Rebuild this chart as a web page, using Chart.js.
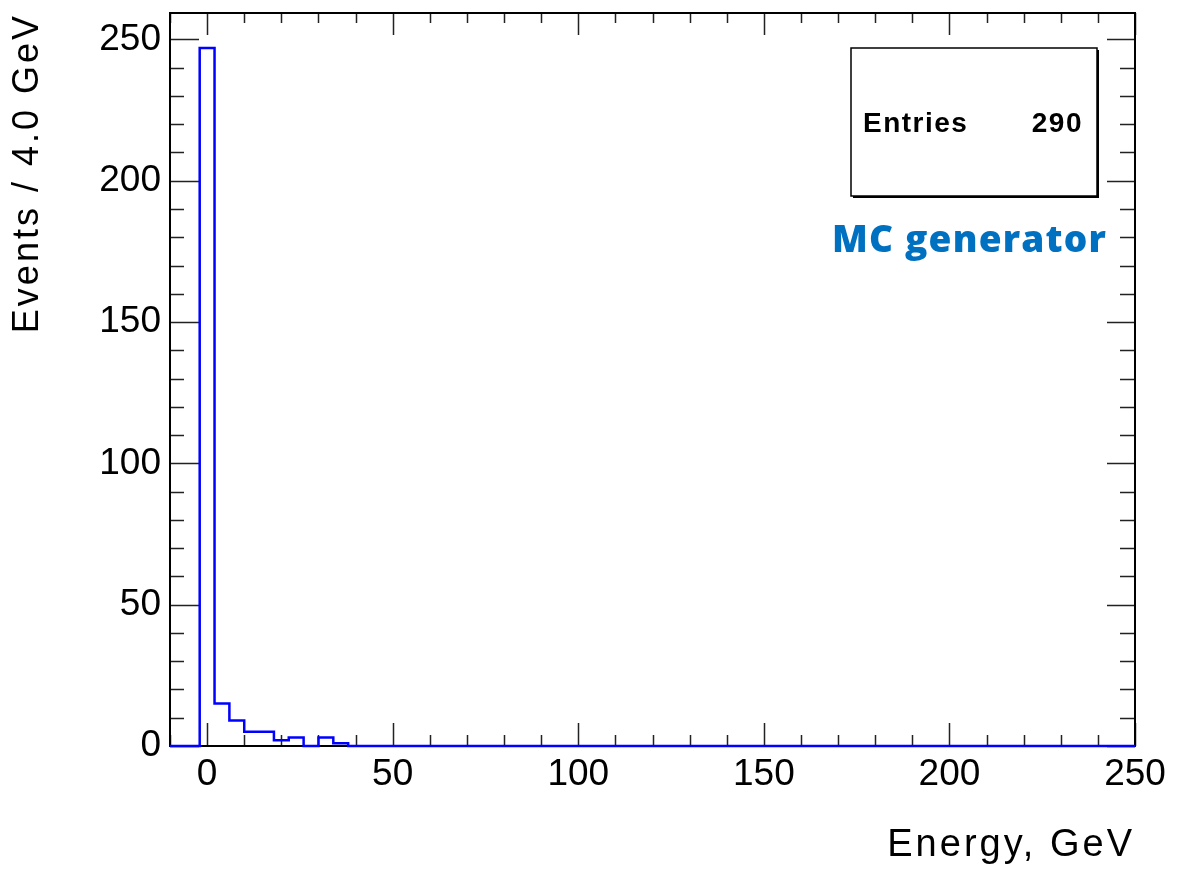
<!DOCTYPE html>
<html>
<head>
<meta charset="utf-8">
<title>Energy histogram</title>
<script src="https://cdn.jsdelivr.net/npm/chart.js@4.4.1/dist/chart.umd.min.js"></script>
<style>
  html, body { margin: 0; padding: 0; background: #fff; }
  #wrap { width: 1178px; height: 870px; }
</style>
</head>
<body>
<div id="wrap"><canvas id="energyHist" width="1178" height="870"></canvas></div>
<script>
// Histogram binning: 65 bins of 4 GeV, from -10 to 250 GeV
const binLow = -10;
const binWidth = 4;
const binCounts = [
  0, 0, 247, 15, 9, 5, 5, 2, 3, 0, 3, 1, 0,
  0, 0, 0, 0, 0, 0, 0, 0, 0, 0, 0, 0, 0,
  0, 0, 0, 0, 0, 0, 0, 0, 0, 0, 0, 0, 0,
  0, 0, 0, 0, 0, 0, 0, 0, 0, 0, 0, 0, 0,
  0, 0, 0, 0, 0, 0, 0, 0, 0, 0, 0, 0, 0
];

// Labelled ticks on each axis
const xTickLabels = [0, 50, 100, 150, 200, 250];
const yTickLabels = [0, 50, 100, 150, 200, 250];

// Stat box / annotation text
const statName = 'Entries';
const statValue = 290;
const annotation = 'MC generator';

const xTitle = 'Energy, GeV';
const yTitle = 'Events / 4.0 GeV';

const TICK_FONT = "'Liberation Sans', Arial, sans-serif";

// Build step points (left bin edges + closing right edge)
const histPoints = binCounts.map((c, i) => ({ x: binLow + i * binWidth, y: c }));
histPoints.push({ x: binLow + binCounts.length * binWidth, y: binCounts[binCounts.length - 1] });

const xMax = binLow + binCounts.length * binWidth;
const yMax = Math.max(...binCounts) * 1.05;

function isMultiple(v, step) {
  return Math.abs(v / step - Math.round(v / step)) < 1e-6;
}

/**
 * ROOT-like frame: box with inward ticks on all four sides,
 * stat box, annotation and axis titles
 */
const rootFrame = {
  id: 'rootFrame',
  beforeDatasetsDraw(chart) {
    const ctx = chart.ctx;
    const a = chart.chartArea;
    const xs = chart.scales.x;
    const ys = chart.scales.y;

    ctx.save();
    ctx.strokeStyle = '#222';
    ctx.lineWidth = 1.5;

    // x ticks (bottom and top)
    xs.ticks.forEach(t => {
      if (!isMultiple(t.value, 10)) return;
      const px = Math.round(xs.getPixelForValue(t.value)) + 0.5;
      const major = isMultiple(t.value, 50);
      ctx.beginPath();
      ctx.moveTo(px, a.bottom);
      ctx.lineTo(px, a.bottom - (major ? 23 : 11));
      ctx.moveTo(px, a.top);
      ctx.lineTo(px, a.top + (major ? 22 : 10));
      ctx.stroke();
    });

    // y ticks (left and right)
    ys.ticks.forEach(t => {
      if (!isMultiple(t.value, 10)) return;
      const py = Math.round(ys.getPixelForValue(t.value)) + 0.5;
      const major = isMultiple(t.value, 50);
      ctx.beginPath();
      ctx.moveTo(a.left, py);
      ctx.lineTo(a.left + (major ? 29 : 14), py);
      ctx.moveTo(a.right, py);
      ctx.lineTo(a.right - (major ? 28 : 15), py);
      ctx.stroke();
    });

    // frame
    ctx.strokeStyle = '#000';
    ctx.lineWidth = 2;
    ctx.strokeRect(a.left, a.top, a.right - a.left, a.bottom - a.top);
    ctx.restore();
  },
  afterDraw(chart) {
    const ctx = chart.ctx;
    const a = chart.chartArea;
    ctx.save();

    // stat box with shadow
    const bx = 851, by = 48, bw = 246, bh = 148;
    ctx.fillStyle = '#000';
    ctx.fillRect(bx + 2, by + 2, bw, bh);
    ctx.fillStyle = '#fff';
    ctx.fillRect(bx, by, bw, bh);
    ctx.strokeStyle = '#000';
    ctx.lineWidth = 1.5;
    ctx.strokeRect(bx, by, bw, bh);

    ctx.fillStyle = '#000';
    ctx.font = "bold 28px " + TICK_FONT;
    ctx.letterSpacing = '1.5px';
    ctx.textBaseline = 'alphabetic';
    ctx.textAlign = 'left';
    ctx.fillText(statName, 863, 132);
    ctx.textAlign = 'right';
    ctx.fillText(String(statValue), 1083, 132);

    // annotation
    ctx.fillStyle = '#0070C0';
    ctx.font = "800 37px 'Open Sans', sans-serif";
    ctx.letterSpacing = '1.2px';
    ctx.textAlign = 'left';
    ctx.fillText(annotation, 832, 252);

    // x title, right aligned to the frame
    ctx.fillStyle = '#000';
    ctx.font = "38px " + TICK_FONT;
    ctx.letterSpacing = '3px';
    ctx.textAlign = 'right';
    ctx.fillText(xTitle, a.right, 856);

    // y title, rotated, ending at frame top
    ctx.font = "36px " + TICK_FONT;
    ctx.letterSpacing = '3px';
    ctx.translate(38, a.top);
    ctx.rotate(-Math.PI / 2);
    ctx.textAlign = 'right';
    ctx.fillText(yTitle, 0, 0);
    ctx.restore();
  }
};

const ctx = document.getElementById('energyHist').getContext('2d');

new Chart(ctx, {
  type: 'line',
  data: {
    datasets: [{
      label: 'Energy',
      data: histPoints,
      stepped: 'before',
      borderColor: '#0000ff',
      borderWidth: 2.5,
      pointRadius: 0,
      fill: false,
      clip: false
    }]
  },
  plugins: [rootFrame],
  options: {
    responsive: false,
    animation: false,
    devicePixelRatio: 1,
    layout: {
      padding: { left: 0, top: 13, right: 43, bottom: 0 }
    },
    plugins: {
      legend: { display: false },
      tooltip: { enabled: false }
    },
    scales: {
      x: {
        type: 'linear',
        min: binLow,
        max: xMax,
        grid: { display: false, drawTicks: false },
        border: { display: false },
        afterFit: scale => {
          scale.height = 124;
          scale.paddingLeft = 0;
          scale.paddingRight = 0;
        },
        ticks: {
          stepSize: 10,
          autoSkip: false,
          maxRotation: 0,
          padding: 7,
          color: '#000',
          font: { family: TICK_FONT, size: 37 },
          callback: v => (xTickLabels.includes(v) ? String(v) : '')
        }
      },
      y: {
        type: 'linear',
        min: 0,
        max: yMax,
        grid: { display: false, drawTicks: false },
        border: { display: false },
        afterFit: scale => {
          scale.width = 170;
          scale.paddingTop = 0;
          scale.paddingBottom = 0;
        },
        ticks: {
          stepSize: 10,
          autoSkip: false,
          includeBounds: false,
          padding: 9,
          color: '#000',
          font: { family: TICK_FONT, size: 37 },
          callback: v => (yTickLabels.includes(v) ? String(v) : '')
        }
      }
    }
  }
});
</script>
</body>
</html>
